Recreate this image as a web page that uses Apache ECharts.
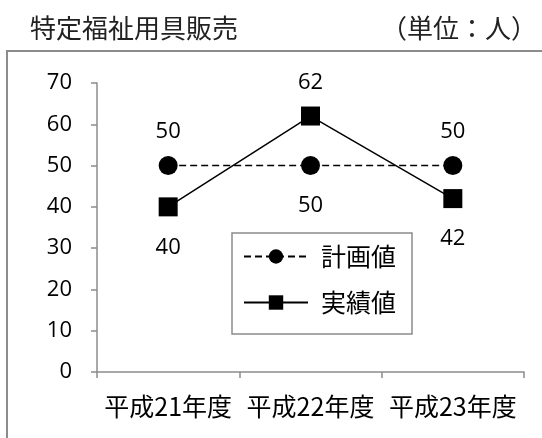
<!DOCTYPE html>
<html>
<head>
<meta charset="utf-8">
<script src="https://cdn.jsdelivr.net/npm/echarts@6/dist/echarts.min.js"></script>
<style>
  html, body { margin: 0; padding: 0; background: #fff; }
  #chart { width: 542px; height: 438px; }
</style>
</head>
<body>
<div id="chart"></div>
<script>
// Fiscal years on the category axis
const years = ['平成21年度', '平成22年度', '平成23年度'];
// Planned and actual counts (persons)
const planned = [50, 50, 50];
const actual = [40, 62, 42];
// Where each value label sits relative to its marker
const plannedLabelPos = ['top', 'bottom', 'top'];
const actualLabelPos = ['bottom', 'top', 'bottom'];

const NUM_FONT = '"Open Sans", "Noto Sans", sans-serif';
const JP_FONT = '"Noto Sans CJK JP", sans-serif';

function withLabels(values, positions) {
  return values.map((v, i) => ({
    value: v,
    label: { position: positions[i], distance: positions[i] === 'top' ? 13 : 20 }
  }));
}

const chart = echarts.init(document.getElementById('chart'), null, { renderer: 'canvas' });

chart.setOption({
  animation: false,
  backgroundColor: '#fff',
  title: [
    {
      text: '特定福祉用具販売',
      left: 25, top: 10,
      textStyle: { fontFamily: JP_FONT, fontSize: 26, fontWeight: 'normal', color: '#222' }
    },
    {
      text: '（単位：人）',
      right: 0, top: 10,
      textStyle: { fontFamily: JP_FONT, fontSize: 26, fontWeight: 'normal', color: '#222' }
    }
  ],
  graphic: [
    {
      type: 'rect',
      shape: { x: 7, y: 51, width: 560, height: 420 },
      style: { fill: 'none', stroke: '#8c8c8c', lineWidth: 2 },
      silent: true
    }
  ],
  grid: { left: 97, right: 18, top: 83, bottom: 66, containLabel: false },
  legend: {
    orient: 'vertical',
    left: 232, top: 233,
    padding: [11, 16, 19, 11],
    itemWidth: 64, itemHeight: 18, itemGap: 21,
    borderColor: '#8c8c8c', borderWidth: 1.5,
    textStyle: { fontFamily: JP_FONT, fontSize: 25, color: '#000', padding: [0, 0, 0, 8] },
    data: ['計画値', '実績値']
  },
  xAxis: {
    type: 'category',
    data: years,
    boundaryGap: true,
    axisLine: { lineStyle: { color: '#8c8c8c', width: 1.5 } },
    axisTick: { show: true, length: 6, inside: false, interval: 0, lineStyle: { color: '#8c8c8c', width: 1.5 } },
    axisLabel: { fontFamily: JP_FONT, fontSize: 25, color: '#000', margin: 22, interval: 0, hideOverlap: false }
  },
  yAxis: {
    type: 'value',
    min: 0, max: 70, interval: 10,
    axisLine: { show: true, lineStyle: { color: '#8c8c8c', width: 1.5 } },
    axisTick: { show: true, length: 6, lineStyle: { color: '#8c8c8c', width: 1.5 } },
    splitLine: { show: false },
    axisLabel: { fontFamily: NUM_FONT, fontSize: 22, color: '#000', margin: 25 }
  },
  series: [
    {
      name: '計画値',
      type: 'line',
      data: withLabels(planned, plannedLabelPos),
      symbol: 'circle',
      symbolSize: 19,
      itemStyle: { color: '#000' },
      lineStyle: { color: '#000', width: 1.5, type: [7, 4] },
      label: { show: true, fontFamily: NUM_FONT, fontSize: 22, color: '#000' },
      z: 3
    },
    {
      name: '実績値',
      type: 'line',
      data: withLabels(actual, actualLabelPos),
      symbol: 'rect',
      symbolSize: 19,
      itemStyle: { color: '#000' },
      lineStyle: { color: '#000', width: 1.5, type: 'solid' },
      label: { show: true, fontFamily: NUM_FONT, fontSize: 22, color: '#000' },
      z: 4
    }
  ]
});
</script>
</body>
</html>
